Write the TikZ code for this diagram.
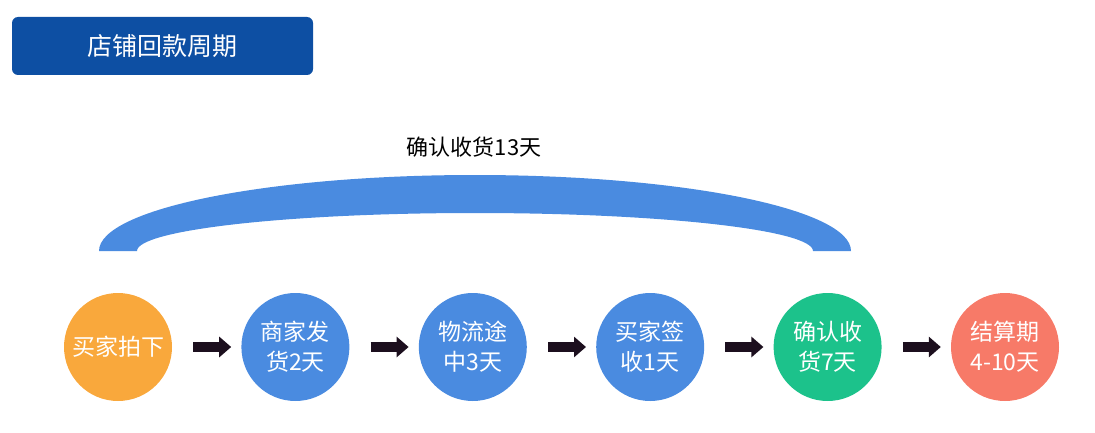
\documentclass[tikz,border=0pt]{standalone}
\usepackage{fontspec}
\setmainfont{Noto Sans CJK SC}
\usepackage{tikz}
\usetikzlibrary{shapes, arrows.meta, positioning, calc}
\definecolor{hktitle}{HTML}{0D4FA3}
\definecolor{hkblue}{HTML}{4A8BE0}
\definecolor{hkorange}{HTML}{F9A83C}
\definecolor{hkgreen}{HTML}{1CC28B}
\definecolor{hkred}{HTML}{F77A68}
\definecolor{hkblack}{HTML}{1C0F1E}

\begin{document}
\begin{tikzpicture}[x=1pt, y=1pt,
      circ/.style={circle, fill=hkblue, minimum size=108pt, inner sep=0pt, text=white, align=center, font=\fontsize{23}{30}\selectfont},
      arr/.style={-{Triangle[length=12pt, width=20pt]}, line width=10pt, hkblack, shorten <=21pt, shorten >=10pt}
    ]
      \useasboundingbox (0,0) rectangle (1095,432);
      % title
      \node[rectangle, fill=hktitle, rounded corners=6pt, minimum width=301pt, minimum height=58pt, text=white, font=\fontsize{25}{30}\selectfont] (T) at (162.5,386) {店铺回款周期};
      % arc over the first five steps
      \fill[hkblue] (99,181) arc[start angle=180, end angle=0, x radius=376, y radius=76]
        -- (813,181) arc[start angle=0, end angle=180, x radius=338, y radius=38] -- cycle;
      \node[font=\fontsize{22}{26}\selectfont] (L) at (474,285) {确认收货13天};

      \node[circ, fill=hkorange] (A) at (118,85) {买家拍下};
      \node[circ, right=69pt of A] (B) {商家发\\货2天};
      \node[circ, right=69pt of B] (C) {物流途\\中3天};
      \node[circ, right=69pt of C] (D) {买家签\\收1天};
      \node[circ, fill=hkgreen, right=69pt of D] (E) {确认收\\货7天};
      \node[circ, fill=hkred, right=69pt of E] (F) {结算期\\4-10天};

      \draw[arr] (A) -- (B);
      \draw[arr] (B) -- (C);
      \draw[arr] (C) -- (D);
      \draw[arr] (D) -- (E);
      \draw[arr] (E) -- (F);
    \end{tikzpicture}
\end{document}
